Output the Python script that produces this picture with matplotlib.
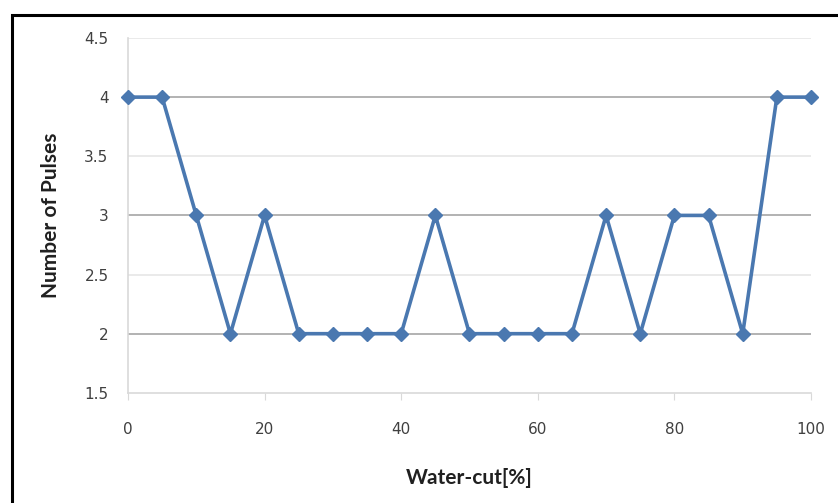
import matplotlib
matplotlib.use("Agg")
import matplotlib.pyplot as plt
from matplotlib.patches import Rectangle

water_cut = [0, 5, 10, 15, 20, 25, 30, 35, 40, 45, 50, 55, 60, 65, 70, 75, 80, 85, 90, 95, 100]
pulses = [4, 4, 3, 2, 3, 2, 2, 2, 2, 3, 2, 2, 2, 2, 3, 2, 3, 3, 2, 4, 4]
x_ticks = [0, 20, 40, 60, 80, 100]
y_ticks = [1.5, 2, 2.5, 3, 3.5, 4, 4.5]

plt.rcParams['font.family'] = ['Lato', 'DejaVu Sans']
fig = plt.figure(figsize=(8.38, 5.03), dpi=100)
ax = fig.add_axes([0.1527, 0.219, 0.8151, 0.7055])

for y in y_ticks[1:]:
    ax.axhline(y, color='#a6a6a6' if y in (2, 3, 4) else '#e6e6e6', lw=1.2, zorder=1)

ax.plot(water_cut, pulses, color='#4a78b0', lw=2.6, marker='D', markersize=7.5,
        markerfacecolor='#4a78b0', markeredgecolor='#4a78b0', zorder=3, clip_on=False)

ax.set_xlim(0, 100)
ax.set_ylim(1.5, 4.5)
ax.set_xticks(x_ticks)
ax.set_yticks(y_ticks)
ax.set_yticklabels([f"{v:g}" for v in y_ticks])
for lab in ax.get_xticklabels() + ax.get_yticklabels():
    lab.set_family(['DejaVu Sans'])
for s in ['top', 'right']:
    ax.spines[s].set_visible(False)
for s in ['left', 'bottom']:
    ax.spines[s].set_color('#d9d9d9')
    ax.spines[s].set_linewidth(1.2)
ax.tick_params(axis='x', colors='#d9d9d9', labelcolor='#404040', labelsize=11, length=5, direction='out', pad=16)
ax.tick_params(axis='y', length=0, labelcolor='#404040', labelsize=11, pad=14)
ax.set_xlabel('Water-cut[%]', fontsize=15, fontweight='bold', color='#202020', labelpad=22)
ax.set_ylabel('Number of Pulses', fontsize=15, fontweight='bold', color='#202020', labelpad=17)

fig.patches.append(Rectangle((12/838, -0.1), 1.2, (1 - 15/503) + 0.1, transform=fig.transFigure,
                             fill=False, edgecolor='black', lw=2.2))

fig.savefig('out.png', dpi=100)
